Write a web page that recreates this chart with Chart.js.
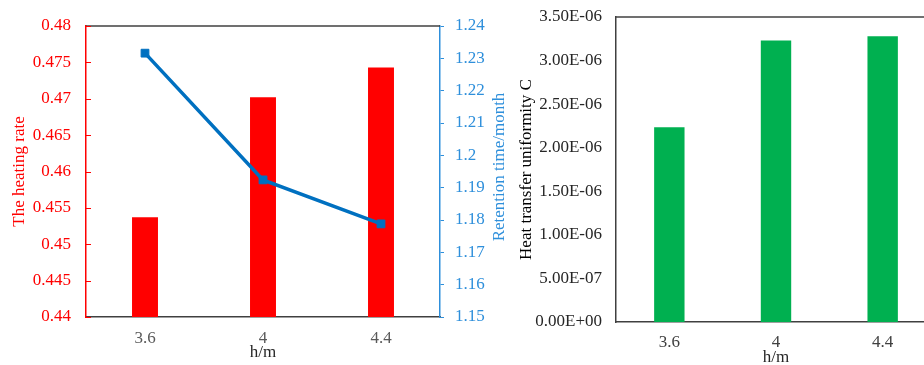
<!DOCTYPE html>
<html>
<head>
<meta charset="utf-8">
<script src="https://cdn.jsdelivr.net/npm/chart.js@4"></script>
<style>
  html, body { margin: 0; padding: 0; background: #fff; overflow: hidden; width: 924px; height: 365px; }
  #leftBox { position: absolute; left: 0; top: 0; width: 512px; height: 365px; }
  #rightBox { position: absolute; left: 512px; top: 0; width: 428px; height: 372px; }
</style>
</head>
<body>
<div id="leftBox"><canvas id="chartLeft" width="512" height="365"></canvas></div>
<div id="rightBox"><canvas id="chartRight" width="428" height="372"></canvas></div>
<script>
// ==== Data ====
const heights = ['3.6', '4', '4.4'];
const heatingRate = [0.4537, 0.4702, 0.4743];
const retentionTime = [1.2316, 1.1924, 1.1788];
const uniformityC = [2.234e-6, 3.229e-6, 3.279e-6];

const RED = '#FF0000';
const LINE_BLUE = '#0070C0';
const AXIS_BLUE = '#2E8FDB';
const GREEN = '#00B050';
const DARK = '#404040';

Chart.defaults.font.family = '"Liberation Serif", "Times New Roman", serif';
Chart.defaults.font.size = 17;
Chart.defaults.animation = false;

// 3.50E-06 style labels
function sciLabel(v) {
  const parts = Number(v).toExponential(2).split('e');
  const n = parseInt(parts[1], 10);
  return parts[0] + 'E' + (n < 0 ? '-' : '+') + String(Math.abs(n)).padStart(2, '0');
}

// ==== Left chart: top border, inward red ticks, rotated blue title ====
const leftFrame = {
  id: 'leftFrame',
  afterDraw(chart) {
    const { ctx, chartArea: a, scales } = chart;
    ctx.save();
    ctx.strokeStyle = DARK;
    ctx.lineWidth = 1.5;
    ctx.beginPath();
    ctx.moveTo(a.left, a.top);
    ctx.lineTo(a.right, a.top);
    ctx.stroke();

    ctx.strokeStyle = RED;
    ctx.lineWidth = 1;
    ctx.beginPath();
    scales.y.ticks.forEach(t => {
      const y = Math.round(scales.y.getPixelForValue(t.value)) + 0.5;
      ctx.moveTo(a.left, y);
      ctx.lineTo(a.left + 5, y);
    });
    ctx.stroke();

    ctx.translate(500, 167);
    ctx.rotate(-Math.PI / 2);
    ctx.fillStyle = AXIS_BLUE;
    ctx.font = '17px "Liberation Serif", serif';
    ctx.textAlign = 'center';
    ctx.textBaseline = 'middle';
    ctx.fillText('Retention time/month', 0, 0);
    ctx.restore();
  }
};

new Chart(document.getElementById('chartLeft'), {
  data: {
    labels: heights,
    datasets: [
      {
        type: 'line',
        label: 'Retention time',
        data: retentionTime,
        yAxisID: 'y1',
        borderColor: LINE_BLUE,
        backgroundColor: LINE_BLUE,
        borderWidth: 3.5,
        pointStyle: 'rect',
        pointRadius: 5.5,
        pointBorderWidth: 1,
        order: 0
      },
      {
        type: 'bar',
        label: 'Heating rate',
        data: heatingRate,
        yAxisID: 'y',
        backgroundColor: RED,
        barPercentage: 0.22,
        categoryPercentage: 1,
        order: 1
      }
    ]
  },
  options: {
    responsive: false,
    layout: { padding: { top: 26 } },
    plugins: { legend: { display: false }, tooltip: { enabled: false } },
    scales: {
      x: {
        grid: { display: false, drawTicks: false },
        border: { color: DARK, width: 1.5 },
        ticks: { color: '#595959', padding: 11 },
        title: { display: true, text: 'h/m', color: '#262626', padding: { top: 0, bottom: 2 } },
        afterFit: s => { s.height = 48; }
      },
      y: {
        position: 'left',
        min: 0.44,
        max: 0.48,
        grid: { display: false, drawTicks: false },
        border: { color: RED, width: 1.5 },
        ticks: { stepSize: 0.005, color: RED, padding: 15, callback: v => String(+v.toFixed(3)) },
        title: { display: true, text: 'The heating rate', color: RED, padding: { top: 9, bottom: 0 } },
        afterFit: s => { s.width = 86; }
      },
      y1: {
        position: 'right',
        min: 1.15,
        max: 1.24,
        grid: { display: true, drawOnChartArea: false, drawTicks: true, tickLength: 4, color: AXIS_BLUE },
        border: { color: AXIS_BLUE, width: 1.5 },
        ticks: { stepSize: 0.01, color: AXIS_BLUE, padding: 11, callback: v => String(+v.toFixed(2)) },
        afterFit: s => { s.width = 72; }
      }
    }
  },
  plugins: [leftFrame]
});

// ==== Right chart: top border ====
const rightFrame = {
  id: 'rightFrame',
  afterDraw(chart) {
    const { ctx, chartArea: a } = chart;
    ctx.save();
    ctx.strokeStyle = DARK;
    ctx.lineWidth = 1.5;
    ctx.beginPath();
    ctx.moveTo(a.left, a.top);
    ctx.lineTo(a.right + 10, a.top);
    ctx.stroke();
    ctx.restore();
  }
};

new Chart(document.getElementById('chartRight'), {
  type: 'bar',
  data: {
    labels: heights,
    datasets: [{
      label: 'Heat transfer uniformity C',
      data: uniformityC,
      backgroundColor: GREEN,
      barPercentage: 0.285,
      categoryPercentage: 1
    }]
  },
  options: {
    responsive: false,
    layout: { padding: { top: 17, right: 4 } },
    plugins: { legend: { display: false }, tooltip: { enabled: false } },
    scales: {
      x: {
        grid: { display: false, drawTicks: false },
        border: { color: DARK, width: 1.5 },
        ticks: { color: DARK, padding: 10 },
        title: { display: true, text: 'h/m', color: '#262626', padding: { top: 0, bottom: 4 } },
        afterFit: s => { s.height = 50; }
      },
      y: {
        min: 0,
        max: 3.5e-6,
        // hidden tick marks still reserve the label gap
        grid: { display: false, drawTicks: true, tickLength: 10 },
        border: { color: DARK, width: 1.5 },
        ticks: { stepSize: 5e-7, color: '#262626', padding: 4, callback: v => sciLabel(v) },
        title: { display: true, text: 'Heat transfer uniformity C', color: '#000', padding: { top: 4, bottom: 0 } },
        afterFit: s => { s.width = 104; }
      }
    }
  },
  plugins: [rightFrame]
});
</script>
</body>
</html>
